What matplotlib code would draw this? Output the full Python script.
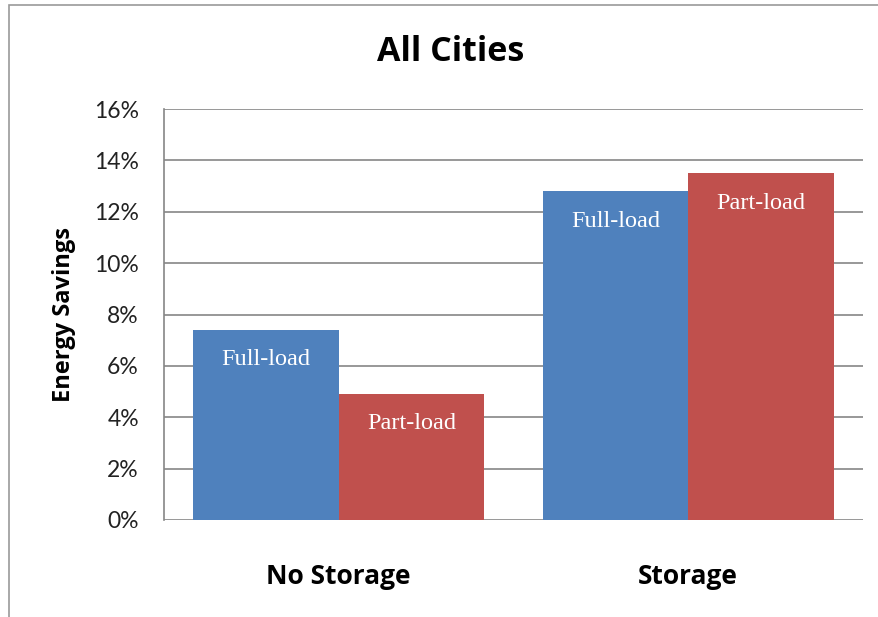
import numpy as np
import matplotlib
matplotlib.use("Agg")
import matplotlib.pyplot as plt
from matplotlib.patches import Rectangle
from matplotlib.ticker import PercentFormatter

# energy savings (%) per case
categories = ["No Storage", "Storage"]
full_load = [7.4, 12.8]
part_load = [4.9, 13.5]
series_names = ["Full-load", "Part-load"]
colors = ["#4F81BD", "#C0504D"]

fig = plt.figure(figsize=(8.79, 6.17), dpi=100)
fig.patch.set_facecolor("white")

# chart border
fig.patches.append(Rectangle((8.5 / 879, -0.1), 1.2, 1.1 - 5 / 617,
                             transform=fig.transFigure, fill=False,
                             edgecolor="#9a9a9a", linewidth=1.2))

ax = fig.add_axes([164 / 879, 1 - 520 / 617, 699 / 879, 411 / 617])

x = np.arange(len(categories))
w = 0.416
for i, (vals, name, c) in enumerate(zip([full_load, part_load], series_names, colors)):
    xs = x + (i - 0.5) * w
    bars = ax.bar(xs, vals, width=w, color=c, zorder=3)
    for b, v in zip(bars, vals):
        ax.annotate(name, (b.get_x() + b.get_width() / 2, v),
                    xytext=(0, -21.5), textcoords="offset points",
                    ha="center", va="center", color="white",
                    fontsize=17.5, family="Liberation Serif", zorder=4)

ax.set_xlim(-0.5, 1.5)
ax.set_ylim(0, 16)
ax.set_yticks(np.arange(0, 17, 2))
ax.yaxis.set_major_formatter(PercentFormatter(decimals=0))
ax.grid(axis="y", color="#868686", linewidth=1.2, zorder=0)
for side in ["top", "right", "bottom"]:
    ax.spines[side].set_visible(False)
ax.spines["left"].set_color("#868686")
ax.spines["left"].set_linewidth(1.2)

ax.set_xticks(x)
ax.set_xticklabels(categories, fontsize=19, fontweight="bold", family="Open Sans")
ax.tick_params(axis="x", length=0, pad=31)
ax.tick_params(axis="y", length=0, pad=18, labelsize=16.5)
for t in ax.get_yticklabels():
    t.set_family("Lato")
    t.set_color("#222222")

ax.set_ylabel("Energy Savings", fontsize=17, fontweight="bold", family="Open Sans", labelpad=13)
fig.text(451 / 879, 1 - 52 / 617, "All Cities", ha="center", va="center",
         fontsize=24.5, fontweight="bold", family="Open Sans")

fig.savefig("out.png", dpi=100)
